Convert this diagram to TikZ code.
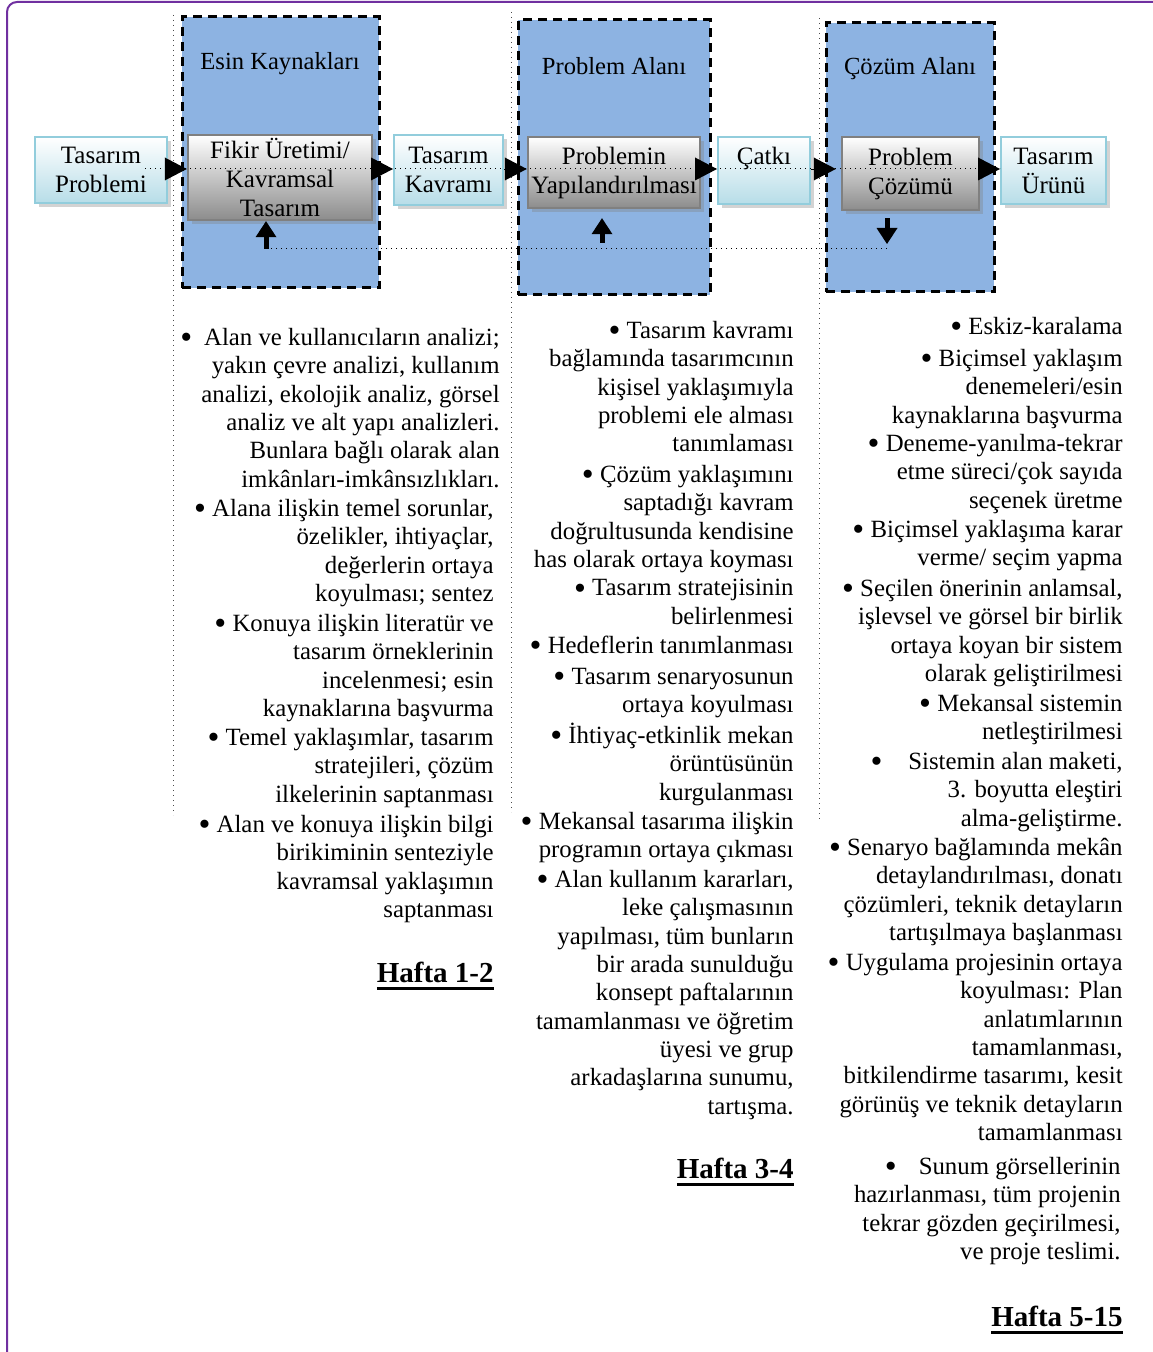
\documentclass[tikz,border=0pt]{standalone}
\usepackage{fontspec}
\setmainfont{Liberation Serif}
\usetikzlibrary{arrows.meta,shadows}

\definecolor{alanmavi}{HTML}{8DB3E2}
\definecolor{cercevemor}{HTML}{7030A0}
\definecolor{acikcam}{HTML}{B7DDE8}
\definecolor{camkenar}{HTML}{92CDDC}

\newcommand{\haftaalti}[1]{\setbox0\hbox{#1}\rlap{\rule[-4pt]{\wd0}{1.5pt}}\box0}
\newcommand{\imlec}{\raisebox{-1.6pt}{\fontsize{17}{14}\selectfont•}}

\begin{document}
\begin{tikzpicture}[x=0.5pt, y=-0.5pt,
  alan/.style = {draw, fill=alanmavi, line width=1.5pt, dash pattern=on 4.5pt off 3pt},
  baslik/.style = {font=\fontsize{12.3}{14.5}\selectfont},
  camkutu/.style = {draw=camkenar, line width=1pt, top color=white, bottom color=acikcam,
    align=center, inner sep=0pt, font=\fontsize{12.5}{14.5}\selectfont,
    drop shadow={shadow xshift=2pt, shadow yshift=-2pt, opacity=.35}},
  grikutu/.style = {draw=black!50, line width=1.2pt, top color=white, bottom color=black!45,
    align=center, inner sep=0pt, font=\fontsize{12.5}{14.5}\selectfont,
    drop shadow={shadow xshift=2pt, shadow yshift=-2pt, opacity=.35}},
  pijl/.style = {line width=0.4pt, -{Triangle[length=11pt, width=11.5pt, line width=0pt]}},
  blok/.style = {line width=2.5pt, -{Triangle[length=8pt, width=10.5pt, line width=0pt]}},
  noktali/.style = {dotted, line width=0.5pt},
  ayrac/.style = {dotted, line width=0.5pt, black!70},
  madde/.style = {anchor=north east, yshift=7pt, align=right, inner sep=0pt,
    font=\fontsize{12.4}{14.15}\selectfont, execute at begin node=\rule{0pt}{9pt}},
  hafta/.style = {anchor=base east, inner sep=0pt, font=\fontsize{14.5}{16}\selectfont\bfseries}]

  \useasboundingbox (0,0) rectangle (1152,1352);
  \draw[cercevemor, line width=1pt, rounded corners=5pt] (7,2) rectangle (1175,1380);

  \node[alan, minimum width=98.5pt, minimum height=135.5pt] (esin) at (280.5,152.5) {};
  \node[alan, minimum width=96pt, minimum height=137.5pt] (palan) at (614,157.5) {};
  \node[alan, minimum width=84pt, minimum height=134.5pt] (calan) at (910,157.5) {};
  \node[baslik] (esinb) at (280,64) {Esin Kaynakları};
  \node[baslik] (palanb) at (614,66) {Problem Alanı};
  \node[baslik] (calanb) at (910,69) {Çözüm Alanı};

  \draw[ayrac] (173,15) -- (173,815);
  \draw[ayrac] (511,12) -- (511,812);
  \draw[ayrac] (819,18) -- (819,820);

  \node[camkutu, minimum width=66pt, minimum height=33pt] (tp) at (101,170) {Tasarım\\Problemi};
  \node[grikutu, minimum width=92pt, minimum height=42.5pt] (fikir) at (280,177.5) {Fikir Üretimi/\\Kavramsal\\Tasarım};
  \node[camkutu, minimum width=54.5pt, minimum height=35pt] (tk) at (448.5,170) {Tasarım\\Kavramı};
  \node[grikutu, minimum width=86pt, minimum height=35.5pt] (prob) at (614,172.5) {Problemin\\Yapılandırılması};
  \node[camkutu, minimum width=46pt, minimum height=33.5pt] (catki) at (764,170.5) {Çatkı\\\mbox{}};
  \node[grikutu, minimum width=68.5pt, minimum height=36.5pt] (pc) at (910.5,173.5) {Problem\\Çözümü};
  \node[camkutu, minimum width=52.5pt, minimum height=33.5pt] (tu) at (1053.5,170.5) {Tasarım\\Ürünü};

  \coordinate (dsol) at (145,169);
  \coordinate (dsag) at (1000,169);
  \draw[noktali] (dsol) -- (dsag);
  \draw[pijl] (tp.east |- dsol) -- (fikir.west |- dsol);
  \draw[pijl] (fikir.east |- dsol) -- (tk.west |- dsol);
  \draw[pijl] (tk.east |- dsol) -- (prob.west |- dsol);
  \draw[pijl] (prob.east |- dsol) -- (catki.west |- dsol);
  \draw[pijl, shorten >=2.5pt] (catki.east |- dsol) -- (pc.west |- dsol);
  \draw[pijl] (pc.east |- dsol) -- (tu.west |- dsol);

  \coordinate (geri1) at (266,249);
  \coordinate (geri2) at (602,243);
  \coordinate (geri3) at (887,244);
  \draw[noktali] (geri1) -- (888,249);
  \draw[blok] (geri1) -- (geri1 |- fikir.south);
  \draw[blok, shorten >=4.5pt] (geri2) -- (geri2 |- prob.south);
  \draw[blok, shorten <=3.5pt] (geri3 |- pc.south) -- (geri3);

  \node[madde] (m1a) at (500,342) {\imlec\hspace{6pt}Alan ve kullanıcıların analizi;\\ yakın çevre analizi, kullanım\\ analizi, ekolojik analiz, görsel\\ analiz ve alt yapı analizleri.\\ Bunlara bağlı olarak alan\\ imkânları-imkânsızlıkları.};
  \node[madde] (m1b) at (494,513) {\imlec{} Alana ilişkin temel sorunlar,\\ özelikler, ihtiyaçlar,\\ değerlerin ortaya\\ koyulması; sentez};
  \node[madde] (m1c) at (494,628) {\imlec{} Konuya ilişkin literatür ve\\ tasarım örneklerinin\\ incelenmesi; esin\\ kaynaklarına başvurma};
  \node[madde] (m1d) at (494,742) {\imlec{} Temel yaklaşımlar, tasarım\\ stratejileri, çözüm\\ ilkelerinin saptanması};
  \node[madde] (m1e) at (494,829) {\imlec{} Alan ve konuya ilişkin bilgi\\ birikiminin senteziyle\\ kavramsal yaklaşımın\\ saptanması};
  \node[hafta] (h1) at (494,982) {\haftaalti{Hafta 1-2}};

  \node[madde] (m2a) at (794,335) {\imlec{} Tasarım kavramı\\ bağlamında tasarımcının\\ kişisel yaklaşımıyla\\ problemi ele alması\\ tanımlaması};
  \node[madde] (m2b) at (794,479) {\imlec{} Çözüm yaklaşımını\\ saptadığı kavram\\ doğrultusunda kendisine\\ has olarak ortaya koyması};
  \node[madde] (m2c) at (794,593) {\imlec{} Tasarım stratejisinin\\ belirlenmesi};
  \node[madde] (m2d) at (794,649) {\imlec{} Hedeflerin tanımlanması};
  \node[madde] (m2e) at (794,682) {\imlec{} Tasarım senaryosunun\\ ortaya koyulması};
  \node[madde] (m2f) at (794,740) {\imlec{} \smash{İ}htiyaç-etkinlik mekan\\ örüntüsünün\\ kurgulanması};
  \node[madde] (m2g) at (794,826) {\imlec{} Mekansal tasarıma ilişkin\\ programın ortaya çıkması};
  \node[madde] (m2h) at (794,884) {\imlec{} Alan kullanım kararları,\\ leke çalışmasının\\ yapılması, tüm bunların\\ bir arada sunulduğu\\ konsept paftalarının\\ tamamlanması ve öğretim\\ üyesi ve grup\\ arkadaşlarına sunumu,\\ tartışma.};
  \node[hafta] (h2) at (794,1178) {\haftaalti{Hafta 3-4}};

  \node[madde] (m3a) at (1123,330) {\imlec{} Eskiz-karalama};
  \node[madde] (m3b) at (1123,363) {\imlec{} Biçimsel yaklaşım\\ denemeleri/esin\\ kaynaklarına başvurma};
  \node[madde] (m3c) at (1123,448) {\imlec{} Deneme-yanılma-tekrar\\ etme süreci/çok sayıda\\ seçenek üretme};
  \node[madde] (m3d) at (1123,534) {\imlec{} Biçimsel yaklaşıma karar\\ verme/ seçim yapma};
  \node[madde] (m3e) at (1123,593) {\imlec{} Seçilen önerinin anlamsal,\\ işlevsel ve görsel bir birlik\\ ortaya koyan bir sistem\\ olarak geliştirilmesi};
  \node[madde] (m3f) at (1123,708) {\imlec{} Mekansal sistemin\\ netleştirilmesi};
  \node[madde] (m3g) at (1123,766) {\imlec\hspace{13pt}Sistemin alan maketi,\\ 3. boyutta eleştiri\\ alma-geliştirme.};
  \node[madde] (m3h) at (1123,852) {\imlec{} Senaryo bağlamında mekân\\ detaylandırılması, donatı\\ çözümleri, teknik detayların\\ tartışılmaya başlanması};
  \node[madde] (m3i) at (1123,967) {\imlec{} Uygulama projesinin ortaya\\ koyulması: Plan\\ anlatımlarının\\ tamamlanması,\\ bitkilendirme tasarımı, kesit\\ görünüş ve teknik detayların\\ tamamlanması};
  \node[madde] (m3j) at (1121,1171) {\imlec\hspace{11pt}Sunum görsellerinin\\ hazırlanması, tüm projenin\\ tekrar gözden geçirilmesi,\\ ve proje teslimi.};
  \node[hafta] (h3) at (1123,1326) {\haftaalti{Hafta 5-15}};
\end{tikzpicture}
\end{document}
